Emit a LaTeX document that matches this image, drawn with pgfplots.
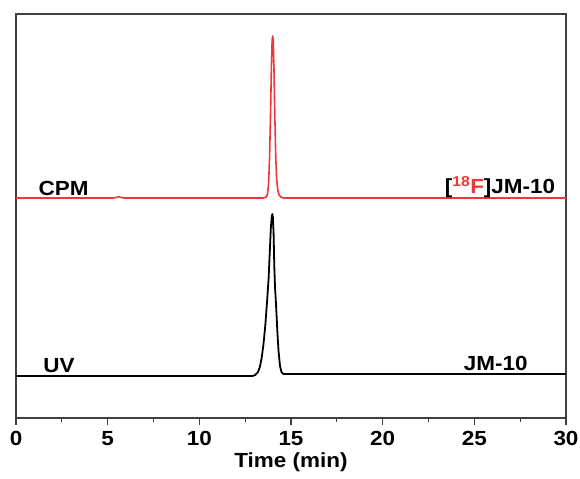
\documentclass[border=0pt]{standalone}
\usepackage{fontspec}
\setmainfont{Liberation Sans}[FakeStretch=1.1]
\usepackage{pgfplots}
\pgfplotsset{compat=1.18}
\definecolor{cpmred}{RGB}{240,55,55}
\pgfplotstableread{
x y
0 220
5.3 220
5.5 220.6
5.6 221.5
5.7 220.6
5.9 220
13.5 220
13.65 221
13.72 224
13.78 235
13.83 260
13.88 300
13.93 350
13.97 377
14.0 382
14.03 377
14.07 350
14.12 300
14.17 260
14.22 238
14.28 228
14.35 223
14.45 221
14.6 220
30 220
}\cpmdata
\pgfplotstableread{
x y
0 42
12.9 42
13.05 43
13.2 46
13.3 51
13.4 60
13.5 74
13.6 93
13.7 118
13.78 140
13.84 165
13.9 190
13.95 201
13.98 204
14.01 201
14.05 185
14.09 151
14.13 130
14.17 118
14.22 100
14.26 85
14.32 67
14.4 52
14.48 46
14.58 44
30 44
}\uvdata
\begin{document}
\begin{tikzpicture}
\begin{axis}[
 at={(0,0)}, anchor=south west,
 scale only axis, width=550bp, height=404bp,
 xmin=0, xmax=30, ymin=0, ymax=404,
 axis line style={line width=1.3pt, draw=black!75},
 xtick={0,5,...,30}, minor xtick={2.5,7.5,...,27.5},
 ytick=\empty,
 xtick pos=bottom, tick align=outside,
 major tick length=7bp, minor tick length=4bp,
 every tick/.style={line width=1.1pt, black!75},
 ticklabel style={font=\fontsize{20.5}{24}\selectfont\bfseries, yshift=-3bp},
 /pgf/number format/assume math mode=true,
 xlabel={Time (min)},
 xlabel style={font=\fontsize{20.5}{24}\selectfont\bfseries, at={(axis description cs:0.5,-0.109)}, anchor=center},
 clip=false,
]
\addplot[cpmred, line width=1.6pt, line join=round] table {\cpmdata};
\addplot[black, line width=1.8pt, line join=round] table {\uvdata};
\node[font=\fontsize{20.5}{24}\selectfont\bfseries] at (axis cs:2.6,230) {CPM};
\node[font=\fontsize{20.5}{24}\selectfont\bfseries, anchor=east] at (axis cs:29.6,231) {[\textsuperscript{\textcolor{cpmred}{18}}\textcolor{cpmred}{F}]JM-10};
\node[font=\fontsize{20.5}{24}\selectfont\bfseries] at (axis cs:2.35,52) {UV};
\node[font=\fontsize{20.5}{24}\selectfont\bfseries, anchor=east] at (axis cs:28.1,55) {JM-10};
\end{axis}
\pgfresetboundingbox
\path[use as bounding box] (-16bp,-61bp) rectangle (564bp,418bp);
\end{tikzpicture}
\end{document}
